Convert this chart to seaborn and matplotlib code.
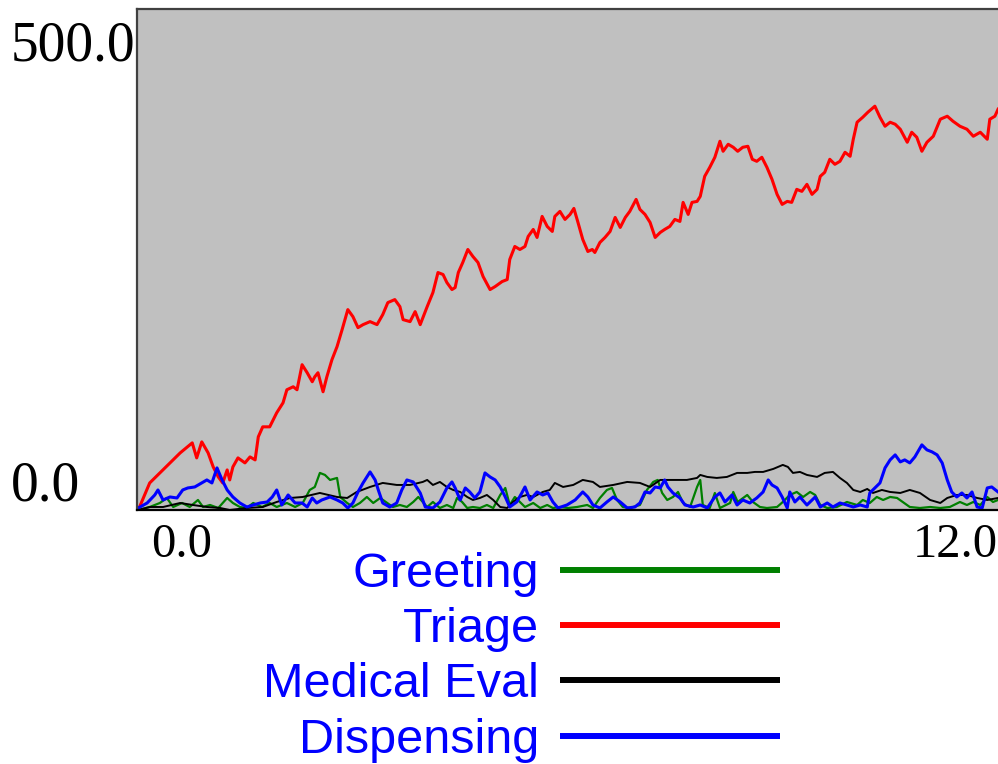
import matplotlib
matplotlib.use("Agg")
import matplotlib.pyplot as plt
import matplotlib.transforms as mtransforms
import seaborn as sns
import pandas as pd

# ---------------- data ----------------
series_names = ["Greeting", "Triage", "Medical Eval", "Dispensing"]
series_colors = ["#008000", "#FF0000", "#000000", "#0000FF"]

greeting_t = [0.02, 0.20, 0.36, 0.47, 0.57, 0.71, 0.83, 0.96, 1.04, 1.15, 1.28, 1.42, 1.51, 1.62,
              1.73, 1.83, 1.97, 2.09, 2.20, 2.36, 2.49, 2.61, 2.72, 2.80, 2.88, 2.96, 3.04, 3.15,
              3.20, 3.31, 3.40, 3.51, 3.62, 3.72, 3.83, 3.94, 4.03, 4.14, 4.25, 4.35, 4.43, 4.50,
              4.57, 4.66, 4.77, 4.88, 4.98, 5.04, 5.12, 5.20, 5.29, 5.40, 5.51, 5.61, 5.72, 5.80,
              5.87, 5.95, 6.03, 6.11, 6.24, 6.35, 6.46, 6.55, 6.66, 6.79, 6.93, 7.09, 7.18, 7.29,
              7.40, 7.48, 7.56, 7.65, 7.76, 7.92, 8.03, 8.13, 8.20, 8.27, 8.35, 8.44, 8.52, 8.60,
              8.71, 8.82, 8.87, 8.91, 9.02, 9.10, 9.18, 9.34, 9.39, 9.46, 9.61, 9.70, 9.81, 9.92,
              10.08, 10.17, 10.28, 10.39, 10.49, 10.60, 10.68, 10.76, 10.87, 11.02, 11.18, 11.34,
              11.43, 11.54, 11.65, 11.75, 11.86, 11.97, 12.06, 12.17, 12.33, 12.49, 12.65, 12.80,
              12.96, 13.07, 13.17, 13.28, 13.39, 13.48, 13.56]
greeting_v = [0, 3, 7, 12, 3, 7, 3, 10, 3, 5, 2, 12, 7, 3,
              2, 7, 3, 7, 3, 7, 3, 7, 20, 23, 37, 35, 30, 32,
              13, 7, 3, 7, 13, 7, 12, 7, 3, 5, 3, 8, 13, 8,
              3, 8, 2, 5, 2, 12, 8, 2, 3, 2, 5, 2, 15, 22,
              5, 13, 8, 3, 7, 2, 5, 2, 3, 2, 3, 5, 2, 12,
              20, 22, 10, 3, 2, 5, 20, 28, 30, 17, 10, 13, 18, 7,
              3, 23, 30, 5, 2, 17, 2, 7, 18, 8, 15, 8, 3, 2,
              3, 8, 15, 18, 13, 18, 15, 5, 2, 3, 8, 5,
              10, 7, 13, 10, 13, 12, 8, 3, 2, 3, 2, 3,
              8, 5, 8, 5, 13, 8, 10]

triage_t = [0.02, 0.20, 0.36, 0.52, 0.68, 0.87, 0.94, 1.02, 1.12, 1.20, 1.28, 1.35, 1.42, 1.46,
            1.51, 1.59, 1.70, 1.78, 1.86, 1.91, 1.98, 2.09, 2.20, 2.30, 2.36, 2.46, 2.52, 2.60,
            2.68, 2.76, 2.80, 2.85, 2.93, 2.99, 3.07, 3.15, 3.23, 3.32, 3.40, 3.48, 3.56, 3.67,
            3.78, 3.87, 3.95, 4.06, 4.14, 4.19, 4.30, 4.38, 4.46, 4.57, 4.66, 4.74, 4.82, 4.88,
            4.96, 5.01, 5.06, 5.13, 5.21, 5.29, 5.37, 5.45, 5.56, 5.64, 5.75, 5.83, 5.87, 5.95,
            6.03, 6.11, 6.16, 6.24, 6.30, 6.38, 6.46, 6.54, 6.58, 6.66, 6.74, 6.82, 6.88, 6.94,
            7.02, 7.10, 7.17, 7.21, 7.29, 7.37, 7.45, 7.53, 7.61, 7.69, 7.76, 7.86, 7.92, 8.00,
            8.08, 8.16, 8.24, 8.31, 8.39, 8.47, 8.55, 8.60, 8.68, 8.74, 8.82, 8.87, 8.94, 9.02,
            9.10, 9.18, 9.23, 9.31, 9.39, 9.46, 9.54, 9.62, 9.69, 9.76, 9.84, 9.92, 10.00, 10.08,
            10.16, 10.24, 10.31, 10.39, 10.47, 10.55, 10.63, 10.71, 10.76, 10.83, 10.91, 10.99,
            11.07, 11.15, 11.23, 11.28, 11.34, 11.43, 11.51, 11.62, 11.70, 11.78, 11.86, 11.94,
            12.02, 12.13, 12.20, 12.28, 12.36, 12.44, 12.54, 12.65, 12.76, 12.85, 12.96, 13.07,
            13.17, 13.28, 13.39, 13.43, 13.51, 13.56]
triage_v = [0, 27, 37, 47, 57, 67, 52, 68, 57, 43, 33, 27, 40, 30,
            43, 52, 47, 53, 50, 73, 83, 83, 97, 107, 120, 123, 120, 145,
            137, 128, 133, 137, 118, 133, 150, 163, 180, 200, 193, 182, 185, 188,
            185, 195, 207, 210, 203, 190, 188, 198, 185, 203, 217, 237, 235, 227,
            220, 222, 237, 247, 260, 253, 247, 233, 220, 223, 228, 230, 250, 263,
            260, 263, 273, 280, 272, 293, 283, 278, 293, 298, 290, 295, 301, 288,
            270, 258, 260, 257, 267, 272, 278, 292, 282, 292, 298, 310, 300, 295,
            287, 272, 277, 280, 283, 290, 288, 307, 295, 307, 308, 313, 333, 342,
            352, 368, 358, 365, 362, 358, 362, 363, 350, 348, 352, 342, 330, 315,
            305, 308, 307, 320, 318, 325, 315, 320, 333, 337, 350, 345,
            348, 357, 353, 370, 387, 392, 397, 403, 392, 383, 387, 385,
            380, 367, 377, 372, 358, 367, 373, 390, 393, 388, 383, 380,
            373, 377, 370, 390, 393, 400]

medical_t = [0.02, 0.20, 0.41, 0.68, 0.88, 1.10, 1.31, 1.46, 1.73, 1.98, 2.20, 2.41, 2.61, 2.88,
             3.15, 3.31, 3.46, 3.67, 3.87, 4.09, 4.30, 4.50, 4.57, 4.66, 4.77, 4.88, 4.98, 5.09,
             5.20, 5.29, 5.40, 5.51, 5.61, 5.72, 5.83, 5.92, 6.03, 6.14, 6.24, 6.39, 6.50, 6.58,
             6.71, 6.87, 7.02, 7.18, 7.29, 7.50, 7.72, 7.92, 8.08, 8.24, 8.50, 8.66, 8.82, 8.87,
             8.98, 9.13, 9.29, 9.45, 9.61, 9.73, 9.86, 10.02, 10.17, 10.25, 10.33, 10.44, 10.55,
             10.71, 10.83, 10.96, 11.07, 11.18, 11.28, 11.39, 11.50, 11.59, 11.73, 11.86, 12.02,
             12.17, 12.33, 12.49, 12.65, 12.76, 12.91, 13.07, 13.23, 13.39, 13.56]
medical_v = [0, 3, 3, 7, 5, 3, 2, 0, 2, 3, 8, 12, 13, 17,
             13, 12, 18, 23, 27, 25, 25, 28, 30, 25, 28, 23, 20, 18,
             13, 10, 12, 15, 10, 3, 2, 8, 13, 15, 13, 18, 20, 27,
             23, 25, 30, 28, 23, 25, 28, 27, 23, 30, 30, 30, 32, 35,
             33, 32, 33, 37, 37, 38, 38, 41, 45, 43, 37, 38, 35,
             33, 37, 38, 32, 27, 20, 18, 21, 17, 20, 18, 17,
             20, 17, 10, 7, 12, 15, 15, 12, 10, 12]

dispensing_t = [0.02, 0.16, 0.28, 0.33, 0.41, 0.52, 0.63, 0.72, 0.80, 0.91, 1.02, 1.10, 1.18, 1.26,
                1.34, 1.42, 1.51, 1.62, 1.73, 1.83, 1.94, 2.05, 2.13, 2.20, 2.28, 2.38, 2.49, 2.60,
                2.68, 2.76, 2.83, 2.91, 3.04, 3.15, 3.24, 3.32, 3.40, 3.48, 3.56, 3.67, 3.75, 3.80,
                3.87, 3.98, 4.09, 4.17, 4.25, 4.35, 4.46, 4.54, 4.66, 4.77, 4.88, 4.96, 5.01, 5.09,
                5.17, 5.24, 5.32, 5.40, 5.48, 5.56, 5.64, 5.72, 5.80, 5.87, 5.98, 6.06, 6.11, 6.19,
                6.30, 6.39, 6.47, 6.55, 6.63, 6.77, 6.90, 7.02, 7.10, 7.18, 7.29, 7.40, 7.50, 7.61,
                7.72, 7.84, 7.92, 8.00, 8.08, 8.16, 8.24, 8.31, 8.36, 8.44, 8.55, 8.63, 8.76, 8.87,
                8.98, 9.10, 9.18, 9.26, 9.37, 9.45, 9.54, 9.65, 9.76, 9.86, 9.94, 10.00, 10.08,
                10.16, 10.24, 10.28, 10.36, 10.44, 10.55, 10.68, 10.76, 10.87, 10.96, 11.07, 11.18,
                11.28, 11.39, 11.50, 11.54, 11.62, 11.70, 11.78, 11.86, 11.94, 12.02, 12.09, 12.17,
                12.25, 12.36, 12.44, 12.52, 12.60, 12.68, 12.76, 12.83, 12.91, 12.99, 13.07, 13.15,
                13.23, 13.31, 13.39, 13.46, 13.56]
dispensing_v = [2, 7, 15, 20, 10, 13, 12, 20, 22, 23, 27, 30, 27, 42,
                30, 20, 13, 7, 3, 5, 7, 8, 13, 20, 5, 15, 7, 7,
                3, 12, 7, 10, 13, 10, 7, 2, 7, 18, 27, 38, 30, 20,
                7, 3, 7, 20, 30, 28, 17, 3, 2, 8, 22, 28, 22, 10,
                22, 18, 12, 18, 37, 33, 30, 23, 13, 3, 8, 17, 23, 10,
                18, 15, 17, 8, 2, 5, 10, 18, 13, 5, 2, 8, 13, 8,
                2, 3, 7, 18, 17, 23, 22, 30, 23, 17, 12, 5, 3, 5,
                2, 13, 17, 8, 15, 5, 10, 7, 12, 18, 30, 25, 22,
                13, 2, 18, 8, 13, 5, 13, 3, 7, 3, 7, 5,
                3, 5, 3, 17, 22, 27, 42, 50, 55, 48, 50, 47,
                53, 65, 60, 58, 55, 47, 30, 18, 13, 17, 12, 18,
                3, 2, 22, 23, 18]

y_tick_values = [500, 0]
y_tick_labels = ["500.0", "0.0"]
x_tick_values = [0, 12]
x_tick_labels = ["0.0", "12.0"]

# ---------------- build long table ----------------
frames = []
for name, t, v in [("Greeting", greeting_t, greeting_v),
                   ("Triage", triage_t, triage_v),
                   ("Medical Eval", medical_t, medical_v),
                   ("Dispensing", dispensing_t, dispensing_v)]:
    frames.append(pd.DataFrame({"time": t, "value": v, "series": name}))
df = pd.concat(frames, ignore_index=True)

# ---------------- figure ----------------
W, H = 998, 764
fig = plt.figure(figsize=(W / 100, H / 100), dpi=100)
fig.patch.set_facecolor("white")

ax_left, ax_right = 137 / W, 1.0
ax_top, ax_bottom = 1 - 9 / H, 1 - 510 / H
ax = fig.add_axes([ax_left, ax_bottom, ax_right - ax_left, ax_top - ax_bottom])
ax.set_facecolor("#C0C0C0")

palette = dict(zip(series_names, series_colors))
widths = {"Greeting": 1.6, "Triage": 2.2, "Medical Eval": 1.4, "Dispensing": 2.2}
for name in series_names:
    sub = df[df["series"] == name]
    sns.lineplot(data=sub, x="time", y="value", color=palette[name],
                 linewidth=widths[name], estimator=None, sort=True, ax=ax, legend=False)

ax.set_xlim(0, (W - 137) / 63.5)
ax.set_ylim(0, 500)
ax.set_xticks([])
ax.set_yticks([])
ax.set_xlabel("")
ax.set_ylabel("")

for side in ["left", "top"]:
    ax.spines[side].set_color("#404040")
    ax.spines[side].set_linewidth(1.6)
ax.spines["bottom"].set_color("#000000")
ax.spines["bottom"].set_linewidth(1.6)
ax.spines["right"].set_visible(False)

# tick labels (serif)
ytrans = mtransforms.blended_transform_factory(fig.transFigure, ax.transData)
yfont = dict(family=["Liberation Serif", "DejaVu Serif"], size=40, color="black")
ax.text(11 / W, 449, y_tick_labels[0], transform=ytrans, ha="left", va="baseline", **yfont)
ax.text(11 / W, 9, y_tick_labels[1], transform=ytrans, ha="left", va="baseline", **yfont)

xfont = dict(family=["Liberation Serif", "DejaVu Serif"], size=35, color="black")
xtrans = mtransforms.offset_copy(ax.get_xaxis_transform(), fig=fig, x=14, y=0, units="dots")
for xv, lbl in zip(x_tick_values, x_tick_labels):
    ax.text(xv, -47 / 501, lbl, transform=xtrans, ha="left", va="baseline", clip_on=False, **xfont)

# legend: labels first, line samples on the right
lines = ax.get_lines()[:4]
leg = ax.legend(lines, series_names, loc="upper right",
                bbox_to_anchor=(780 / W, 1 - 552 / H), bbox_transform=fig.transFigure,
                frameon=False, markerfirst=False, borderpad=0, borderaxespad=0,
                handlelength=4.53, handletextpad=0.42, labelspacing=0.21,
                prop=dict(family=["Liberation Sans", "DejaVu Sans"], size=35))
for txt in leg.get_texts():
    txt.set_color("#0000FF")
for ln, c in zip(leg.get_lines(), series_colors):
    ln.set_linewidth(4.3)
    ln.set_color(c)
    ln.set_solid_capstyle("butt")

fig.savefig("out.png", dpi=100, facecolor="white")
